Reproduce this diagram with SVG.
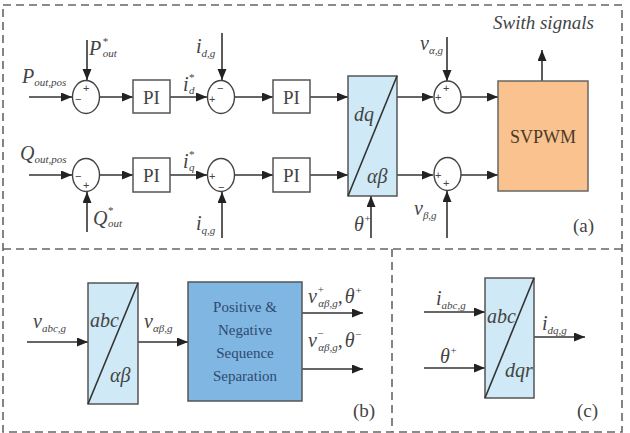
<svg xmlns="http://www.w3.org/2000/svg" width="630" height="433" viewBox="0 0 630 433">
<defs>
<marker id="ah" markerUnits="userSpaceOnUse" markerWidth="12" markerHeight="10" refX="11" refY="4.5" orient="auto">
<path d="M0,0 L11,4.5 L0,9 z" fill="#222"/>
</marker>
<style>
.ln{stroke:#333;stroke-width:1.6;fill:none}
.ar{stroke:#333;stroke-width:1.6;fill:none;marker-end:url(#ah)}
.dash{stroke:#666;stroke-width:1.6;fill:none;stroke-dasharray:8 5}
.sum{fill:#fff;stroke:#444;stroke-width:1.4}
.box{fill:#fff;stroke:#555;stroke-width:1.5}
.blk{fill:#cfe9f6;stroke:#555;stroke-width:1.5}
.m{font-family:"Liberation Serif","Times New Roman","DejaVu Serif",serif;font-style:italic;fill:#444;font-size:20px}
.s{font-size:11px}
.sg{font-family:"Liberation Sans",Arial,sans-serif;fill:#444;font-size:11px}
.u{font-family:"Liberation Serif","Times New Roman","DejaVu Serif",serif;fill:#444;font-size:19px}
.pn{font-family:"Liberation Serif","Times New Roman","DejaVu Serif",serif;font-size:15px;fill:#2e4a70;text-anchor:middle}
</style>
</defs>
<rect x="3" y="5" width="619" height="427" class="dash"/>
<line x1="3" y1="249" x2="622" y2="249" class="dash"/>
<line x1="392" y1="249" x2="392" y2="432" class="dash"/>

<g id="connectors">
<line x1="29" y1="97" x2="72" y2="97" class="ar"/>
<line x1="87" y1="40" x2="87" y2="80" class="ar"/>
<line x1="100" y1="97" x2="133" y2="97" class="ar"/>
<line x1="170" y1="97" x2="207" y2="97" class="ar"/>
<line x1="222" y1="33" x2="222" y2="80" class="ar"/>
<line x1="235" y1="97" x2="273" y2="97" class="ar"/>
<line x1="310" y1="97" x2="348" y2="97" class="ar"/>
<line x1="397" y1="97" x2="433" y2="97" class="ar"/>
<line x1="447" y1="37" x2="447" y2="81" class="ar"/>
<line x1="461" y1="97" x2="498" y2="97" class="ar"/>
<line x1="542" y1="81" x2="542" y2="50" class="ar"/>
<line x1="29" y1="175" x2="72" y2="175" class="ar"/>
<line x1="87" y1="232" x2="87" y2="192" class="ar"/>
<line x1="100" y1="175" x2="133" y2="175" class="ar"/>
<line x1="170" y1="175" x2="207" y2="175" class="ar"/>
<line x1="222" y1="238" x2="222" y2="192" class="ar"/>
<line x1="235" y1="175" x2="273" y2="175" class="ar"/>
<line x1="310" y1="175" x2="348" y2="175" class="ar"/>
<line x1="397" y1="175" x2="433" y2="175" class="ar"/>
<line x1="447" y1="238" x2="447" y2="191" class="ar"/>
<line x1="461" y1="175" x2="498" y2="175" class="ar"/>
<line x1="371" y1="238" x2="371" y2="196" class="ar"/>
<line x1="27" y1="342" x2="88" y2="342" class="ar"/>
<line x1="138" y1="342" x2="188" y2="342" class="ar"/>
<line x1="302" y1="313" x2="363" y2="313" class="ar"/>
<line x1="302" y1="369" x2="363" y2="369" class="ar"/>
<line x1="424" y1="312" x2="485" y2="312" class="ar"/>
<line x1="424" y1="368" x2="485" y2="368" class="ar"/>
<line x1="534" y1="337" x2="585" y2="337" class="ar"/>
</g>

<g id="sum1"><ellipse cx="86" cy="97" rx="13.5" ry="16.5" class="sum"/><text x="83" y="92" class="sg">+</text><text x="75" y="103" class="sg">−</text></g>
<g id="pi1"><rect x="133" y="80" width="37" height="33" class="box"/><text x="151.5" y="104" class="u" text-anchor="middle">PI</text></g>
<g id="sum2"><ellipse cx="221" cy="97" rx="13.5" ry="16.5" class="sum"/><text x="217" y="92" class="sg">−</text><text x="209" y="103" class="sg">+</text></g>
<g id="pi2"><rect x="273" y="80" width="37" height="33" class="box"/><text x="291.5" y="104" class="u" text-anchor="middle">PI</text></g>
<g id="sum4"><ellipse cx="86" cy="175" rx="13.5" ry="16.5" class="sum"/><text x="75" y="180" class="sg">−</text><text x="83" y="189" class="sg">+</text></g>
<g id="pi3"><rect x="133" y="158" width="37" height="34" class="box"/><text x="151.5" y="182" class="u" text-anchor="middle">PI</text></g>
<g id="sum5"><ellipse cx="221" cy="175" rx="13.5" ry="16.5" class="sum"/><text x="209" y="180" class="sg">+</text><text x="218" y="191" class="sg">−</text></g>
<g id="pi4"><rect x="273" y="158" width="37" height="34" class="box"/><text x="291.5" y="182" class="u" text-anchor="middle">PI</text></g>
<g id="dqab"><rect x="348" y="76" width="49" height="120" class="blk"/><line x1="348" y1="196" x2="397" y2="76" class="ln" stroke-width="1.3"/><text x="354" y="121" class="m">dq</text><text x="367" y="183" class="m">αβ</text></g>
<g id="sum3"><ellipse cx="447.5" cy="97" rx="13.5" ry="16" class="sum"/><text x="443" y="92" class="sg">+</text><text x="435" y="101" class="sg">+</text></g>
<g id="sum6"><ellipse cx="447.5" cy="174" rx="13.5" ry="16.5" class="sum"/><text x="435" y="179" class="sg">+</text><text x="443" y="187" class="sg">+</text></g>
<g id="svpwm"><rect x="498" y="81" width="90" height="110" fill="#f9c28e" stroke="#666" stroke-width="1.5"/><text x="543" y="143" class="u" style="font-size:18px;fill:#4a3a2a" text-anchor="middle">SVPWM</text></g>

<g id="labels-a">
<text x="22" y="83" class="m">P<tspan class="s" dy="3">out,pos</tspan></text>
<text x="89" y="55" class="m">P<tspan class="s" dx="1" dy="-10">*</tspan><tspan class="s" dx="-5" dy="12">out</tspan></text>
<text x="183" y="91" class="m">i<tspan class="s" dy="-10">*</tspan><tspan class="s" dx="-5" dy="13">d</tspan></text>
<text x="196" y="53" class="m">i<tspan class="s" dy="4">d,g</tspan></text>
<text x="420" y="50" class="m">v<tspan class="s" dy="4">α,g</tspan></text>
<text x="493" y="29" class="m" style="font-size:19px">Swith signals</text>
<text x="20" y="160" class="m">Q<tspan class="s" dy="3">out,pos</tspan></text>
<text x="93" y="225" class="m">Q<tspan class="s" dx="0" dy="-11">*</tspan><tspan class="s" dx="-5" dy="13">out</tspan></text>
<text x="183" y="168" class="m">i<tspan class="s" dy="-10">*</tspan><tspan class="s" dx="-5" dy="13">q</tspan></text>
<text x="196" y="230" class="m">i<tspan class="s" dy="4">q,g</tspan></text>
<text x="414" y="215" class="m">v<tspan class="s" dy="4">β,g</tspan></text>
<text x="354" y="231" class="m">θ<tspan class="s" dy="-9">+</tspan></text>
<text x="573" y="232" class="u">(a)</text>
</g>

<g id="abcab"><rect x="88" y="283" width="50" height="121" class="blk"/><line x1="88" y1="404" x2="138" y2="283" class="ln" stroke-width="1.3"/><text x="90" y="327" class="m">abc</text><text x="110" y="382" class="m">αβ</text></g>
<g id="pnss"><rect x="188" y="282" width="114" height="119" fill="#80b6e2" stroke="#555" stroke-width="1.5"/>
<text x="245" y="312" class="pn">Positive &amp;</text><text x="245" y="335" class="pn">Negative</text><text x="245" y="358" class="pn">Sequence</text><text x="245" y="381" class="pn">Separation</text></g>
<g id="labels-b">
<text x="33" y="328" class="m">v<tspan class="s" dy="4">abc,g</tspan></text>
<text x="144" y="328" class="m">v<tspan class="s" dy="4">αβ,g</tspan></text>
<text x="308" y="303" class="m">v<tspan class="s" dy="-10">+</tspan><tspan class="s" dx="-6" dy="14">αβ,g</tspan><tspan dy="-4">,</tspan><tspan dx="2">θ</tspan><tspan class="s" dy="-9">+</tspan></text>
<text x="308" y="347" class="m">v<tspan class="s" dy="-10">−</tspan><tspan class="s" dx="-6" dy="14">αβ,g</tspan><tspan dy="-4">,</tspan><tspan dx="2">θ</tspan><tspan class="s" dy="-9">−</tspan></text>
<text x="353" y="417" class="u">(b)</text>
</g>

<g id="abcdq"><rect x="485" y="278" width="49" height="120" class="blk"/><line x1="485" y1="398" x2="534" y2="278" class="ln" stroke-width="1.3"/><text x="487" y="323" class="m">abc</text><text x="505" y="377" class="m">dqr</text></g>
<g id="labels-c">
<text x="436" y="305" class="m">i<tspan class="s" dy="4">abc,g</tspan></text>
<text x="440" y="363" class="m">θ<tspan class="s" dy="-9">+</tspan></text>
<text x="542" y="330" class="m">i<tspan class="s" dy="4">dq,g</tspan></text>
<text x="577" y="417" class="u">(c)</text>
</g>
</svg>
